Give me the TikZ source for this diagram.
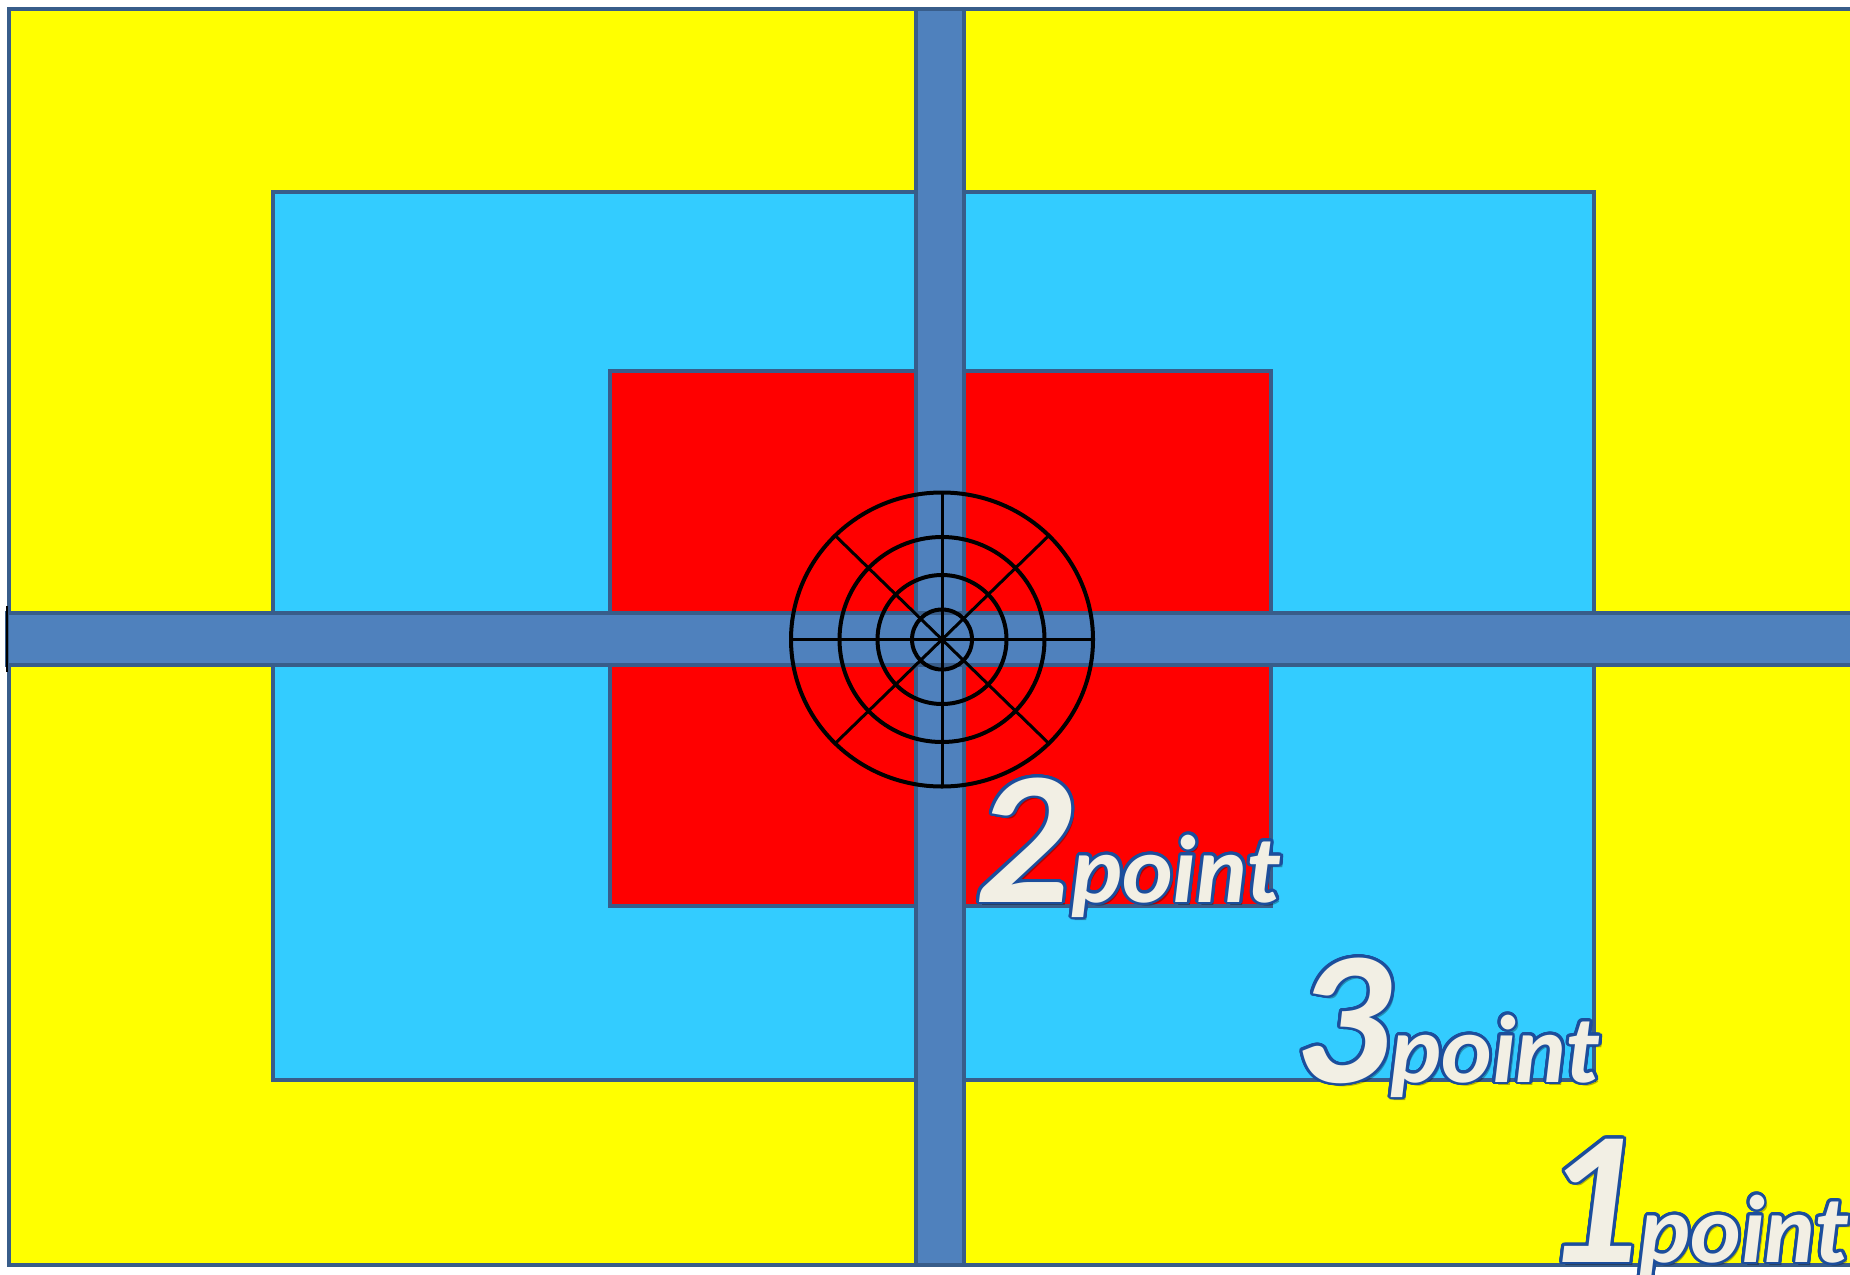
\documentclass[tikz,border=0pt]{standalone}
\usepackage{fontspec}
\setmainfont{Carlito}
\usepackage{contour}
\usetikzlibrary{calc}
\contournumber{32}
\contourlength{1.4pt}
\definecolor{yel}{RGB}{255,255,0}
\definecolor{cya}{RGB}{51,204,255}
\definecolor{redc}{RGB}{255,0,0}
\definecolor{barc}{RGB}{79,129,189}
\definecolor{bordc}{RGB}{56,93,138}
\definecolor{txtc}{RGB}{242,239,228}
\definecolor{outc}{RGB}{28,78,156}
\newcommand{\bigdig}[1]{{\fontsize{95}{95}\selectfont #1}}
\newcommand{\smallword}[1]{{\fontsize{48}{48}\selectfont #1}}
\begin{document}
\begin{tikzpicture}[x=0.5pt,y=-0.5pt]
\tikzset{
  panel/.style={draw=bordc, line width=2pt},
  bar/.style={fill=barc, draw=bordc, line width=2pt},
  ring/.style={draw=black, line width=2pt},
  spoke/.style={draw=black, line width=1.5pt},
  lbl/.style={anchor=base west, inner sep=0pt, text=txtc, font=\bfseries\itshape},
  shadow/.style={anchor=base west, inner sep=0pt, text=black, text opacity=0.3, font=\bfseries\itshape},
}
\useasboundingbox (0,0) rectangle (1850,1274);
\fill[white] (0,0) rectangle (1850,1274);
% panels
\path[panel, fill=yel] (8.5,8.5) rectangle (1870,1265);
\path[panel, fill=cya] (273,192) rectangle (1594,1080);
\path[panel, fill=redc] (610,371) rectangle (1271,906);
% bars
\path[bar] (915.5,8.5) rectangle (963.5,1265);
\path[bar] (6.5,612.5) rectangle (1870,664.5);
\draw[black, line width=1pt] (6.5,606) -- (6.5,672);
% target
\coordinate (c) at (942,639.5);
\coordinate (t) at ($(c)+(0,-147)$);
\coordinate (b) at ($(c)+(0,147)$);
\coordinate (l) at ($(c)+(-151,0)$);
\coordinate (r) at ($(c)+(151,0)$);
\coordinate (d1) at ($(c)+(-106.8,-103.9)$);
\coordinate (d2) at ($(c)+(106.8,103.9)$);
\coordinate (d3) at ($(c)+(106.8,-103.9)$);
\coordinate (d4) at ($(c)+(-106.8,103.9)$);
\draw[spoke] (t) -- (b);
\draw[spoke] (l) -- (r);
\draw[spoke] (d1) -- (d2);
\draw[spoke] (d3) -- (d4);
\draw[ring] (c) ellipse [x radius=151, y radius=147];
\draw[ring] (c) circle [radius=102.5];
\draw[ring] (c) circle [radius=64.5];
\draw[ring] (c) circle [radius=30];
% labels
\node[shadow] (s2) at (978,905) {\bigdig{2}\smallword{point}};
\node[lbl] (l2) at (975,902) {\contour{outc}{\bigdig{2}\smallword{point}}};
\node[shadow] (s3) at (1297,1085) {\bigdig{3}\smallword{point}};
\node[lbl] (l3) at (1294,1082) {\contour{outc}{\bigdig{3}\smallword{point}}};
\node[shadow] (s1) at (1546,1265) {\bigdig{1}\smallword{point}};
\node[lbl] (l1) at (1543,1262) {\contour{outc}{\bigdig{1}\smallword{point}}};
\end{tikzpicture}
\end{document}
